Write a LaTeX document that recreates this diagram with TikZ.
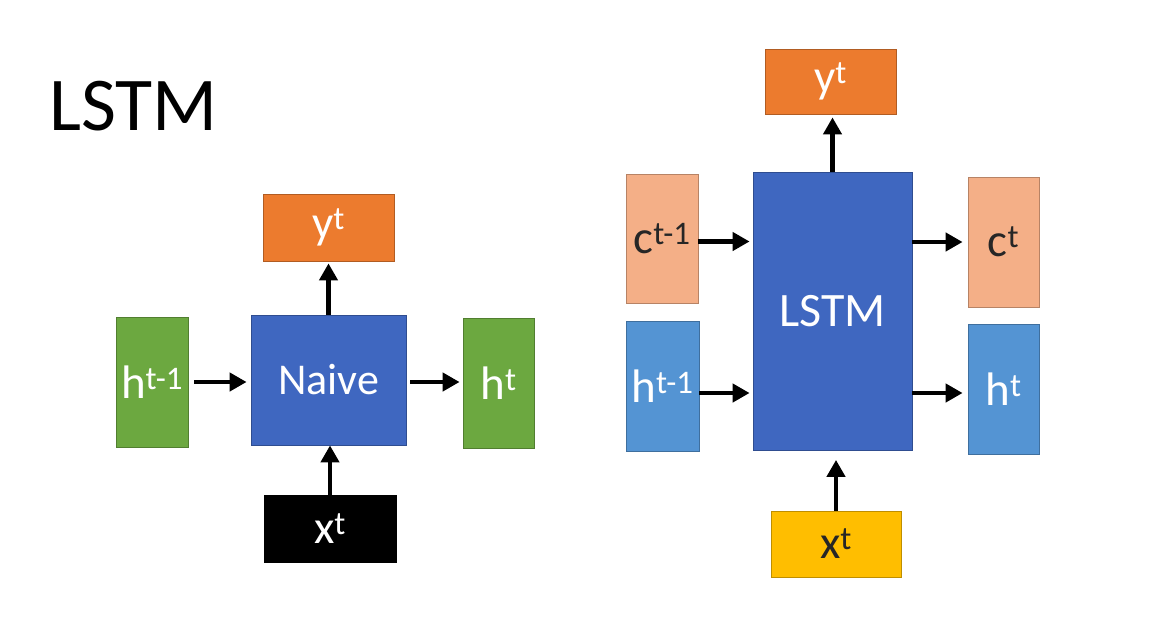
\documentclass[tikz,border=0pt]{standalone}
\usepackage{fontspec}
\setmainfont{Carlito}
\usetikzlibrary{positioning,arrows.meta}
\definecolor{naiveblue}{RGB}{63,103,192}
\definecolor{hgreen}{RGB}{108,168,64}
\definecolor{yorange}{RGB}{236,123,46}
\definecolor{csalmon}{RGB}{244,175,135}
\definecolor{hblue}{RGB}{84,148,211}
\definecolor{xyellow}{RGB}{255,190,0}
\newcommand{\lbl}[1]{\fontsize{47}{50}\selectfont #1}

\begin{document}
\begin{tikzpicture}[x=1pt,y=-1pt,
    box/.style={draw=#1!75!black,fill=#1,line width=0.8pt,inner sep=0pt,text=white},
    arr/.style={line width=4.6pt,-{Triangle[length=17pt,width=18pt]}}]
      \useasboundingbox (0,0) rectangle (1174,618);
      \draw (49,130) node[anchor=base west,inner sep=0pt] (title) {\fontsize{76}{80}\selectfont LSTM};
      % naive
      \draw (328.5,380) node[box=naiveblue,minimum width=155pt,minimum height=130pt] (naive) {\fontsize{44}{48}\selectfont Naive};
      \draw (328.5,227.5) node[box=yorange,minimum width=131pt,minimum height=67pt] (yout1) {\lbl{y\textsuperscript{t}}};
      \draw (152,382) node[box=hgreen,minimum width=72pt,minimum height=130pt] (hprev1) {\lbl{h\textsuperscript{t-1}}};
      \draw (498.5,383) node[box=hgreen,minimum width=71pt,minimum height=130pt] (hnext1) {\lbl{h\textsuperscript{t}}};
      \draw (330,528.5) node[box=black,draw=black,minimum width=132pt,minimum height=67pt] (xin1) {\lbl{x\textsuperscript{t}}};
      \draw[arr,shorten <=6pt,shorten >=4pt] (hprev1.east) to (hprev1.east -| naive.west);
      \draw[arr,shorten <=4pt,shorten >=3pt] (hprev1.east -| naive.east) to (hprev1.east -| hnext1.west);
      \draw[arr,shorten >=2pt] (naive.north) to (yout1.south);
      \draw[arr] (xin1.north) to (xin1.north |- naive.south);
      % lstm
      \draw (832.5,311.5) node[box=naiveblue,minimum width=159pt,minimum height=278pt] (lstm) {\fontsize{48}{52}\selectfont LSTM};
      \draw (830.5,81.5) node[box=yorange,minimum width=131pt,minimum height=65pt] (yout2) {\lbl{y\textsuperscript{t}}};
      \draw (662,238.5) node[box=csalmon,text=black!85,minimum width=72pt,minimum height=129pt] (cprev) {\lbl{c\textsuperscript{t-1}}};
      \draw (662.5,386) node[box=hblue,minimum width=73pt,minimum height=130pt] (hprev2) {\lbl{h\textsuperscript{t-1}}};
      \draw (1003.5,242) node[box=csalmon,text=black!85,minimum width=71pt,minimum height=130pt] (cnext) {\lbl{c\textsuperscript{t}}};
      \draw (1003.5,389) node[box=hblue,minimum width=71pt,minimum height=130pt] (hnext2) {\lbl{h\textsuperscript{t}}};
      \draw (836,544) node[box=xyellow,text=black!85,minimum width=130pt,minimum height=66pt] (xin2) {\lbl{x\textsuperscript{t}}};
      \draw[arr,shorten >=3pt] ([yshift=-3pt]cprev.east) to ([yshift=-3pt]cprev.east -| lstm.west);
      \draw[arr,shorten >=3pt] ([yshift=-7pt]hprev2.east) to ([yshift=-7pt]hprev2.east -| lstm.west);
      \draw[arr,shorten >=5pt] (cnext.west -| lstm.east) to (cnext.west);
      \draw[arr,shorten >=5pt] ([yshift=-4pt]hnext2.west -| lstm.east) to ([yshift=-4pt]hnext2.west);
      \draw[arr,shorten >=3pt] (lstm.north) to (lstm.north |- yout2.south);
      \draw[arr,shorten >=9pt] (xin2.north) to (xin2.north |- lstm.south);
\end{tikzpicture}
\end{document}
